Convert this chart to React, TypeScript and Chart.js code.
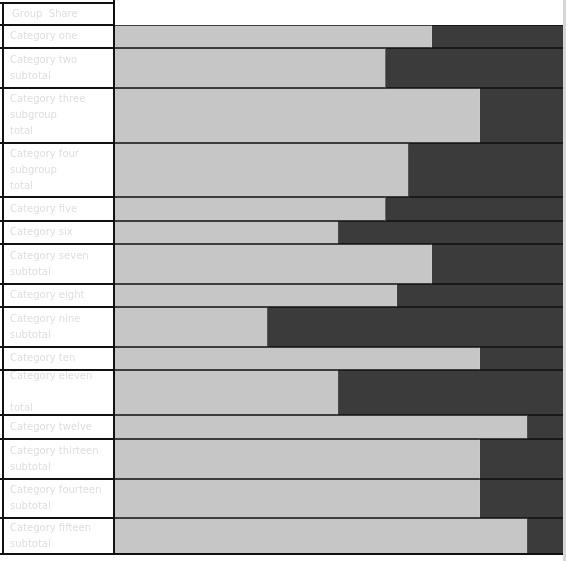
import React, { useEffect, useRef } from "react";
import { Chart, registerables } from "chart.js";

Chart.register(...registerables);

const headerText = "Group  Share";
const rowLabels: string[][] = [
  ["Category one"],
  ["Category two", "subtotal"],
  ["Category three", "subgroup", "total"],
  ["Category four", "subgroup", "total"],
  ["Category five"],
  ["Category six"],
  ["Category seven", "subtotal"],
  ["Category eight"],
  ["Category nine", "subtotal"],
  ["Category ten"],
  ["Category eleven", "", "total"],
  ["Category twelve"],
  ["Category thirteen", "subtotal"],
  ["Category fourteen", "subtotal"],
  ["Category fifteen", "subtotal"],
];
const rowWeights = [23, 40, 55, 54, 24, 23, 40, 23, 40, 23, 45, 24, 40, 39, 36];
const lightShare = [70.8, 60.4, 81.5, 65.5, 60.4, 49.9, 70.8, 63.0, 34.1, 81.5, 49.9, 92.0, 81.5, 81.5, 92.0];
const darkShare = lightShare.map((v) => 100 - v);

const LIGHT = "#c6c6c6";
const DARK = "#3b3b3b";

export default function App() {
  const ref = useRef<HTMLCanvasElement | null>(null);
  useEffect(() => {
    document.body.style.margin = "0";
    const total = rowWeights.reduce((a, b) => a + b, 0);
    const starts: number[] = [];
    let acc = 0;
    rowWeights.forEach((w) => {
      starts.push(acc);
      acc += w;
    });
    const centers = rowWeights.map((w, i) => starts[i] + w / 2);
    const boundaries = [...starts, total];

    const mk = (vals: number[], color: string, name: string) =>
      rowWeights.map((w, i) => ({
        label: name + " " + (i + 1),
        data: [{ x: vals[i], y: centers[i] }],
        backgroundColor: color,
        borderColor: "#111",
        borderWidth: { top: 1, bottom: 1, left: 0, right: 0 },
        borderSkipped: false,
        barThickness: w,
        stack: "s",
      }));

    const labelPlugin = {
      id: "labelColumn",
      afterDraw(chart: any) {
        const ctx = chart.ctx;
        const ys = chart.scales.y;
        const area = chart.chartArea;
        ctx.save();
        ctx.fillStyle = "#d6d6d6";
        ctx.fillRect(area.right, 0, 3, chart.height);
        ctx.strokeStyle = "#111";
        ctx.lineWidth = 2;
        boundaries.forEach((b) => {
          const y = Math.round(ys.getPixelForValue(b));
          ctx.beginPath();
          ctx.moveTo(0, y);
          ctx.lineTo(area.left, y);
          ctx.stroke();
        });
        const yb = Math.round(ys.getPixelForValue(total));
        ctx.beginPath();
        ctx.moveTo(0, yb);
        ctx.lineTo(area.right, yb);
        ctx.stroke();
        ctx.beginPath();
        ctx.moveTo(0, 3);
        ctx.lineTo(area.left, 3);
        ctx.moveTo(3, 3);
        ctx.lineTo(3, yb);
        ctx.stroke();
        ctx.beginPath();
        ctx.moveTo(area.left, 0);
        ctx.lineTo(area.left, yb);
        ctx.stroke();
        ctx.fillStyle = "#dedede";
        ctx.font = "10px 'DejaVu Sans'";
        ctx.textBaseline = "middle";
        ctx.fillText(headerText, 12, 14);
        rowLabels.forEach((lines, i) => {
          const top = ys.getPixelForValue(starts[i]);
          const bot = ys.getPixelForValue(starts[i] + rowWeights[i]);
          const n = lines.length;
          const step = n > 1 ? Math.min(16, (bot - top - 10) / (n - 1)) : 0;
          const c = (top + bot) / 2;
          lines.forEach((t, k) => {
            ctx.fillText(t, 10, c + (k - (n - 1) / 2) * step);
          });
        });
        ctx.restore();
      },
    };

    const chart = new Chart(ref.current as HTMLCanvasElement, {
      type: "bar",
      data: {
        datasets: [...mk(lightShare, LIGHT, "light"), ...mk(darkShare, DARK, "dark")] as any,
      },
      options: {
        indexAxis: "y",
        animation: false,
        responsive: false,
        layout: { padding: { left: 114, top: 25, right: 3, bottom: 7 } },
        plugins: { legend: { display: false }, tooltip: { enabled: false } },
        scales: {
          x: { type: "linear", min: 0, max: 100, stacked: true, display: false },
          y: { type: "linear", min: 0, max: total, reverse: true, offset: false, stacked: true, display: false },
        },
      } as any,
      plugins: [labelPlugin],
    });
    return () => chart.destroy();
  }, []);
  return (
    <div style={{ width: 566, height: 561, background: "#fff" }}>
      <canvas ref={ref} width={566} height={561} />
    </div>
  );
}
